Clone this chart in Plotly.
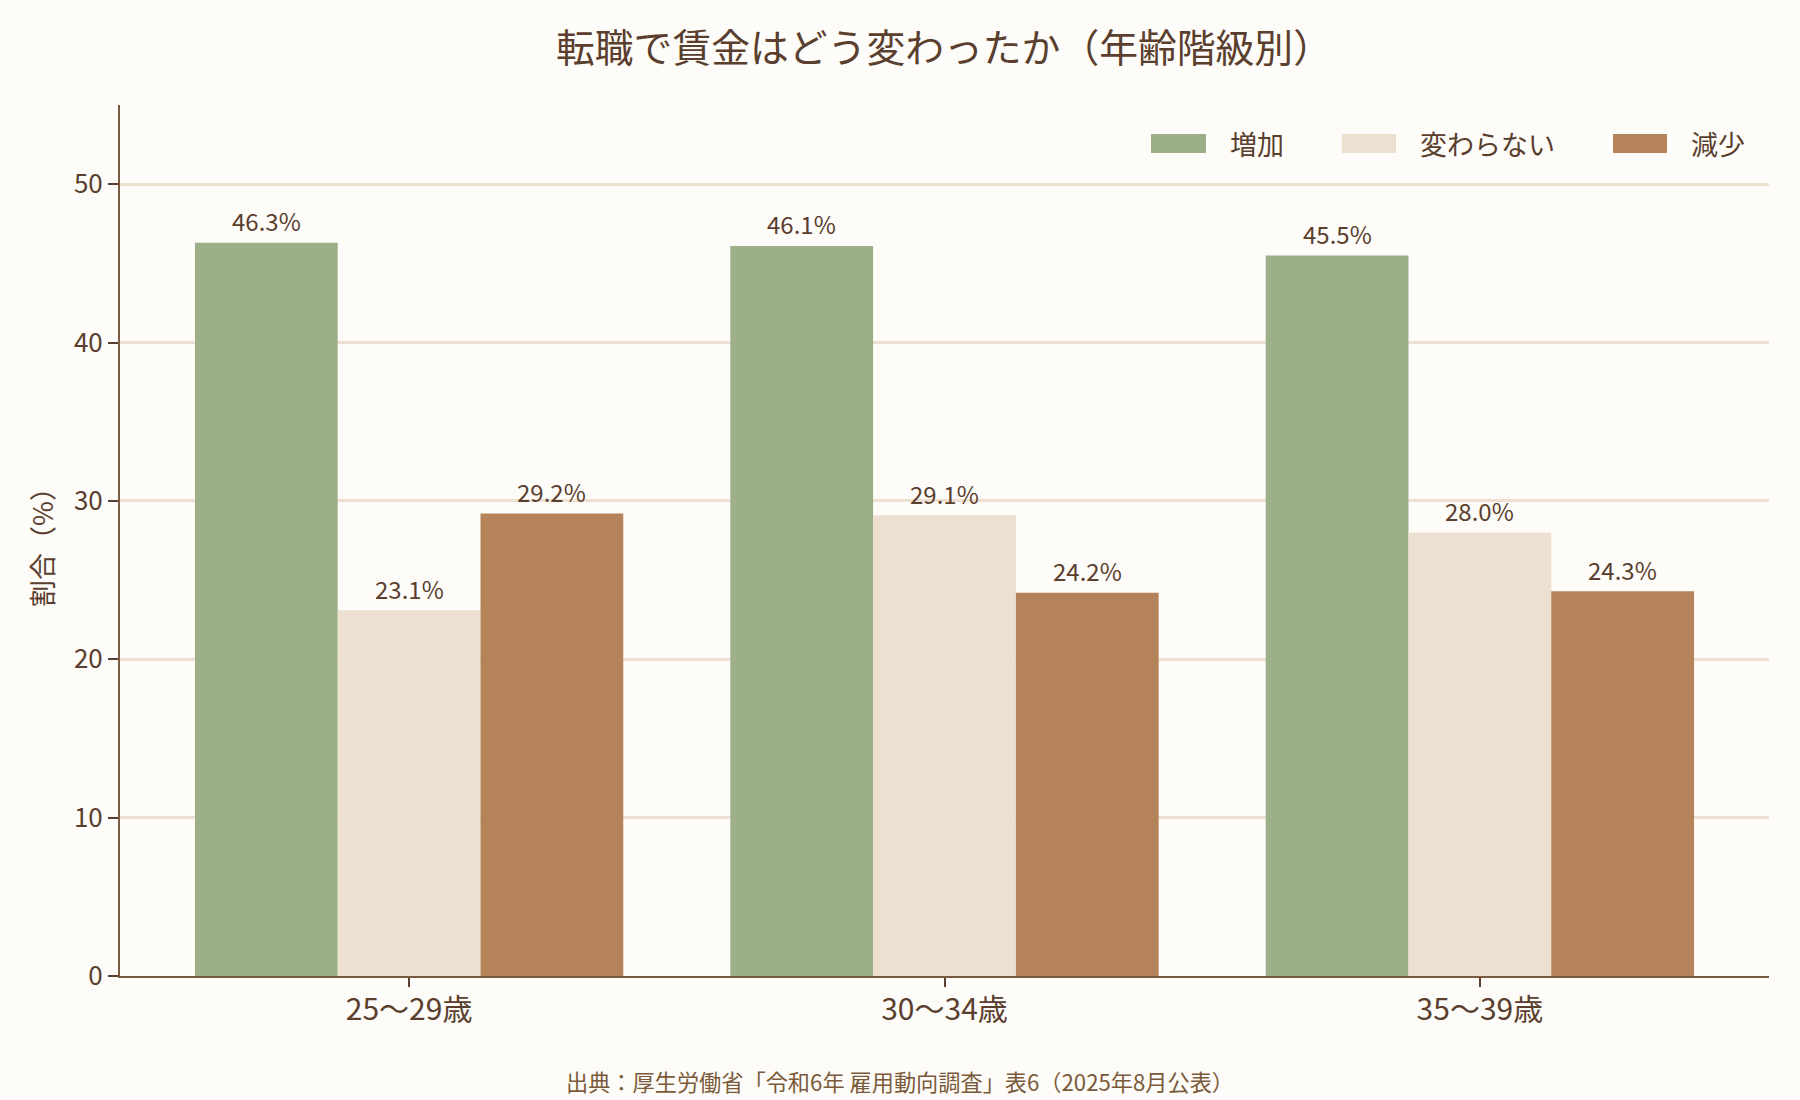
import plotly.graph_objects as go

categories = ["25～29歳", "30～34歳", "35～39歳"]
series_names = ["増加", "変わらない", "減少"]
increase = [46.3, 46.1, 45.5]
unchanged = [23.1, 29.1, 28.0]
decrease = [29.2, 24.2, 24.3]
colors = ["#9caf88", "#ede0d0", "#b5835a"]

FONT = "Noto Sans CJK JP"
TXT = "#5a3e2e"
W, H = 1800, 1100
L, R, T, B = 120, 31, 105, 124
PW, PH = W - L - R, H - T - B
GROUP_W = 0.8

def px_x(x):
    return (x - L) / PW

def px_y(y):
    return (H - B - y) / PH

fig = go.Figure()
annotations = []
all_series = [increase, unchanged, decrease]
n = len(all_series)
for j, (name, vals, col) in enumerate(zip(series_names, all_series, colors)):
    fig.add_trace(go.Bar(
        x=categories, y=vals, name=name, marker=dict(color=col, line=dict(width=0)),
        showlegend=False,
    ))
    off = (j - (n - 1) / 2) * GROUP_W / n
    for i, v in enumerate(vals):
        annotations.append(dict(text=f"{v:.1f}%", x=i + off, y=v, xref="x", yref="y",
                                xanchor="center", yanchor="middle", yshift=22,
                                showarrow=False, font=dict(size=24, color=TXT, family=FONT)))

# manual legend (large rectangular swatches)
legend_rects = [(1151, 1206), (1342, 1396), (1613, 1667)]
shapes = []
for (x0, x1), name, col in zip(legend_rects, series_names, colors):
    shapes.append(dict(type="rect", xref="paper", yref="paper",
                       x0=px_x(x0), x1=px_x(x1), y0=px_y(153), y1=px_y(134),
                       fillcolor=col, line=dict(width=0)))
    annotations.append(dict(text=name, xref="paper", yref="paper", x=px_x(x1 + 22),
                            y=px_y(143), xanchor="left", yanchor="middle", showarrow=False,
                            font=dict(size=27, color=TXT, family=FONT)))

annotations.append(dict(text="出典：厚生労働省「令和6年 雇用動向調査」表6（2025年8月公表）",
                        x=px_x(900), xref="paper", xanchor="center", y=px_y(1081), yref="paper",
                        yanchor="middle", showarrow=False,
                        font=dict(size=22.2, color="#7a5a3a", family=FONT)))

fig.update_layout(
    width=W, height=H,
    paper_bgcolor="#fdfcf8", plot_bgcolor="#fdfcf8",
    font=dict(family=FONT, color=TXT),
    barmode="group", bargap=1 - GROUP_W, bargroupgap=0,
    margin=dict(l=L, r=R, t=T, b=B),
    title=dict(text="転職で賃金はどう変わったか（年齢階級別）", x=944 / W, xanchor="center",
               y=1 - 48/H, yanchor="middle", font=dict(size=38.8, color=TXT, family=FONT)),
    showlegend=False,
    xaxis=dict(range=[-0.54, 2.54], showline=True, linecolor="#7a5a40", linewidth=2,
               ticks="outside", ticklen=9, tickcolor="#5a3e2e", tickwidth=2,
               ticklabelstandoff=-3,
               tickfont=dict(size=30, color=TXT, family=FONT), showgrid=False),
    yaxis=dict(range=[0, 55], tickvals=[0, 10, 20, 30, 40, 50], showline=True,
               linecolor="#7a5a40", linewidth=2, ticks="outside", ticklen=10,
               tickcolor="#5a3e2e", tickwidth=2, gridcolor="#ede0d0", gridwidth=2.5,
               zeroline=False, tickfont=dict(size=26, color=TXT, family=FONT),
               title=dict(text="割合（%）", font=dict(size=27, color=TXT, family=FONT), standoff=12)),
    shapes=shapes,
    annotations=annotations,
)
fig.write_html("out.html")
